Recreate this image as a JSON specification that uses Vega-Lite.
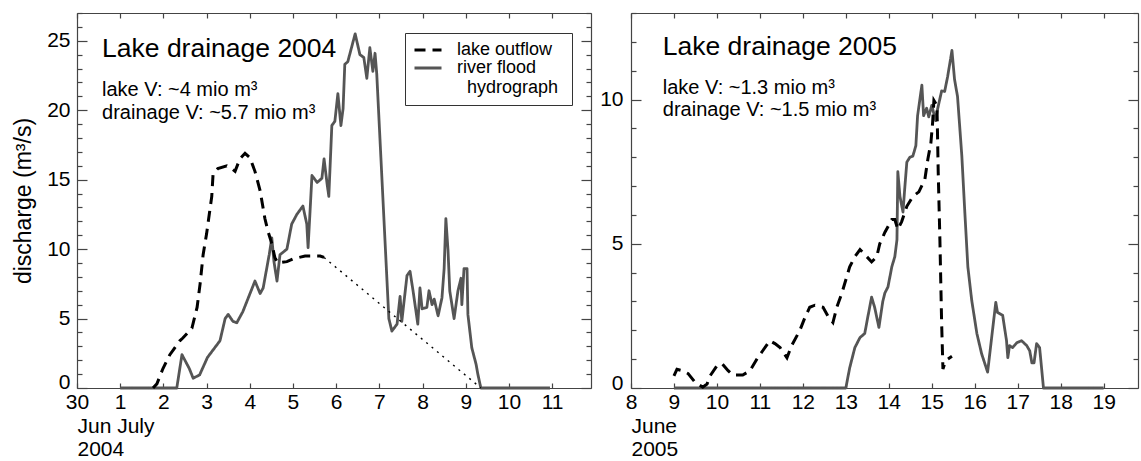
{
  "$schema": "https://vega.github.io/schema/vega-lite/v6.json",
  "padding": {"left": 12, "top": 12, "right": 2, "bottom": 2},
  "config": {
    "font": "Liberation Sans",
    "view": {"stroke": null},
    "axis": {
      "grid": false,
      "domainColor": "#444444",
      "domainWidth": 1.2,
      "tickColor": "#444444",
      "tickWidth": 1.2,
      "labelColor": "#000000",
      "titleColor": "#000000",
      "labelFont": "Liberation Sans",
      "titleFont": "Liberation Sans",
      "labelFontSize": 21,
      "titleFontSize": 21,
      "titleFontWeight": "normal",
      "labelFlush": false,
      "labelOverlap": false
    }
  },
  "spacing": 7,
  "resolve": {"scale": {"color": "independent", "strokeDash": "independent"}},
  "datasets": {
    "y2004": [
      {"day": 1.0, "q": 0, "series": "river flood hydrograph"},
      {"day": 2.31, "q": 0, "series": "river flood hydrograph"},
      {"day": 2.43, "q": 2.4, "series": "river flood hydrograph"},
      {"day": 2.6, "q": 1.4, "series": "river flood hydrograph"},
      {"day": 2.69, "q": 0.7, "series": "river flood hydrograph"},
      {"day": 2.84, "q": 0.95, "series": "river flood hydrograph"},
      {"day": 3.02, "q": 2.2, "series": "river flood hydrograph"},
      {"day": 3.31, "q": 3.4, "series": "river flood hydrograph"},
      {"day": 3.43, "q": 5.0, "series": "river flood hydrograph"},
      {"day": 3.5, "q": 5.3, "series": "river flood hydrograph"},
      {"day": 3.61, "q": 4.8, "series": "river flood hydrograph"},
      {"day": 3.7, "q": 4.7, "series": "river flood hydrograph"},
      {"day": 3.84, "q": 5.5, "series": "river flood hydrograph"},
      {"day": 4.12, "q": 7.7, "series": "river flood hydrograph"},
      {"day": 4.24, "q": 6.8, "series": "river flood hydrograph"},
      {"day": 4.31, "q": 7.2, "series": "river flood hydrograph"},
      {"day": 4.45, "q": 9.6, "series": "river flood hydrograph"},
      {"day": 4.51, "q": 10.8, "series": "river flood hydrograph"},
      {"day": 4.56, "q": 9.1, "series": "river flood hydrograph"},
      {"day": 4.63, "q": 7.7, "series": "river flood hydrograph"},
      {"day": 4.7, "q": 9.6, "series": "river flood hydrograph"},
      {"day": 4.86, "q": 10.0, "series": "river flood hydrograph"},
      {"day": 4.97, "q": 11.8, "series": "river flood hydrograph"},
      {"day": 5.09, "q": 12.5, "series": "river flood hydrograph"},
      {"day": 5.23, "q": 13.1, "series": "river flood hydrograph"},
      {"day": 5.32, "q": 11.8, "series": "river flood hydrograph"},
      {"day": 5.35, "q": 10.1, "series": "river flood hydrograph"},
      {"day": 5.44, "q": 15.3, "series": "river flood hydrograph"},
      {"day": 5.56, "q": 14.8, "series": "river flood hydrograph"},
      {"day": 5.67, "q": 15.1, "series": "river flood hydrograph"},
      {"day": 5.72, "q": 16.5, "series": "river flood hydrograph"},
      {"day": 5.79, "q": 14.7, "series": "river flood hydrograph"},
      {"day": 5.83, "q": 13.8, "series": "river flood hydrograph"},
      {"day": 5.9, "q": 18.9, "series": "river flood hydrograph"},
      {"day": 5.97, "q": 19.2, "series": "river flood hydrograph"},
      {"day": 6.04, "q": 21.2, "series": "river flood hydrograph"},
      {"day": 6.11, "q": 18.9, "series": "river flood hydrograph"},
      {"day": 6.16, "q": 20.1, "series": "river flood hydrograph"},
      {"day": 6.2, "q": 23.3, "series": "river flood hydrograph"},
      {"day": 6.27, "q": 23.5, "series": "river flood hydrograph"},
      {"day": 6.44, "q": 25.5, "series": "river flood hydrograph"},
      {"day": 6.55, "q": 24.0, "series": "river flood hydrograph"},
      {"day": 6.64, "q": 23.8, "series": "river flood hydrograph"},
      {"day": 6.71, "q": 22.3, "series": "river flood hydrograph"},
      {"day": 6.78, "q": 24.5, "series": "river flood hydrograph"},
      {"day": 6.85, "q": 22.8, "series": "river flood hydrograph"},
      {"day": 6.9, "q": 24.1, "series": "river flood hydrograph"},
      {"day": 6.94, "q": 22.6, "series": "river flood hydrograph"},
      {"day": 7.22, "q": 5.0, "series": "river flood hydrograph"},
      {"day": 7.29, "q": 4.1, "series": "river flood hydrograph"},
      {"day": 7.41, "q": 4.6, "series": "river flood hydrograph"},
      {"day": 7.48, "q": 6.6, "series": "river flood hydrograph"},
      {"day": 7.52, "q": 4.8, "series": "river flood hydrograph"},
      {"day": 7.64, "q": 8.1, "series": "river flood hydrograph"},
      {"day": 7.71, "q": 8.4, "series": "river flood hydrograph"},
      {"day": 7.78, "q": 7.0, "series": "river flood hydrograph"},
      {"day": 7.89, "q": 4.6, "series": "river flood hydrograph"},
      {"day": 7.94, "q": 7.2, "series": "river flood hydrograph"},
      {"day": 7.99, "q": 5.7, "series": "river flood hydrograph"},
      {"day": 8.1, "q": 5.8, "series": "river flood hydrograph"},
      {"day": 8.15, "q": 7.0, "series": "river flood hydrograph"},
      {"day": 8.22, "q": 6.0, "series": "river flood hydrograph"},
      {"day": 8.27, "q": 6.4, "series": "river flood hydrograph"},
      {"day": 8.36, "q": 5.2, "series": "river flood hydrograph"},
      {"day": 8.45, "q": 6.5, "series": "river flood hydrograph"},
      {"day": 8.5, "q": 8.6, "series": "river flood hydrograph"},
      {"day": 8.54, "q": 12.2, "series": "river flood hydrograph"},
      {"day": 8.59, "q": 9.9, "series": "river flood hydrograph"},
      {"day": 8.63, "q": 7.0, "series": "river flood hydrograph"},
      {"day": 8.73, "q": 5.0, "series": "river flood hydrograph"},
      {"day": 8.82, "q": 7.0, "series": "river flood hydrograph"},
      {"day": 8.89, "q": 7.9, "series": "river flood hydrograph"},
      {"day": 8.91, "q": 6.0, "series": "river flood hydrograph"},
      {"day": 8.96, "q": 8.6, "series": "river flood hydrograph"},
      {"day": 9.03, "q": 8.6, "series": "river flood hydrograph"},
      {"day": 9.05, "q": 5.3, "series": "river flood hydrograph"},
      {"day": 9.14, "q": 2.9, "series": "river flood hydrograph"},
      {"day": 9.24, "q": 1.7, "series": "river flood hydrograph"},
      {"day": 9.28, "q": 1.0, "series": "river flood hydrograph"},
      {"day": 9.35, "q": 0, "series": "river flood hydrograph"},
      {"day": 10.95, "q": 0, "series": "river flood hydrograph"},
      {"day": 1.76, "q": 0, "series": "lake outflow"},
      {"day": 1.85, "q": 0.3, "series": "lake outflow"},
      {"day": 1.99, "q": 1.4, "series": "lake outflow"},
      {"day": 2.15, "q": 2.4, "series": "lake outflow"},
      {"day": 2.38, "q": 3.4, "series": "lake outflow"},
      {"day": 2.45, "q": 3.6, "series": "lake outflow"},
      {"day": 2.66, "q": 4.3, "series": "lake outflow"},
      {"day": 2.78, "q": 5.8, "series": "lake outflow"},
      {"day": 2.85, "q": 7.5, "series": "lake outflow"},
      {"day": 2.92, "q": 9.6, "series": "lake outflow"},
      {"day": 3.0, "q": 11.1, "series": "lake outflow"},
      {"day": 3.12, "q": 13.8, "series": "lake outflow"},
      {"day": 3.15, "q": 15.4, "series": "lake outflow"},
      {"day": 3.26, "q": 15.8, "series": "lake outflow"},
      {"day": 3.47, "q": 16.0, "series": "lake outflow"},
      {"day": 3.54, "q": 15.9, "series": "lake outflow"},
      {"day": 3.66, "q": 15.6, "series": "lake outflow"},
      {"day": 3.77, "q": 16.5, "series": "lake outflow"},
      {"day": 3.89, "q": 16.9, "series": "lake outflow"},
      {"day": 4.0, "q": 16.6, "series": "lake outflow"},
      {"day": 4.12, "q": 15.6, "series": "lake outflow"},
      {"day": 4.24, "q": 14.2, "series": "lake outflow"},
      {"day": 4.35, "q": 12.2, "series": "lake outflow"},
      {"day": 4.42, "q": 11.3, "series": "lake outflow"},
      {"day": 4.51, "q": 10.4, "series": "lake outflow"},
      {"day": 4.58, "q": 9.4, "series": "lake outflow"},
      {"day": 4.65, "q": 9.0, "series": "lake outflow"},
      {"day": 4.86, "q": 9.1, "series": "lake outflow"},
      {"day": 5.0, "q": 9.3, "series": "lake outflow"},
      {"day": 5.28, "q": 9.5, "series": "lake outflow"},
      {"day": 5.63, "q": 9.5, "series": "lake outflow"},
      {"day": 5.72, "q": 9.4, "series": "lake outflow"},
      {"day": 5.72, "q": 9.4, "series": "extrapolated"},
      {"day": 9.35, "q": 0, "series": "extrapolated"}
    ],
    "y2005": [
      {"day": 9.0, "q": 0, "series": "river flood hydrograph"},
      {"day": 13.0, "q": 0, "series": "river flood hydrograph"},
      {"day": 13.09, "q": 0.7, "series": "river flood hydrograph"},
      {"day": 13.21, "q": 1.4, "series": "river flood hydrograph"},
      {"day": 13.33, "q": 1.75, "series": "river flood hydrograph"},
      {"day": 13.44, "q": 1.89, "series": "river flood hydrograph"},
      {"day": 13.51, "q": 2.45, "series": "river flood hydrograph"},
      {"day": 13.6, "q": 3.15, "series": "river flood hydrograph"},
      {"day": 13.67, "q": 2.8, "series": "river flood hydrograph"},
      {"day": 13.77, "q": 2.1, "series": "river flood hydrograph"},
      {"day": 13.86, "q": 3.0, "series": "river flood hydrograph"},
      {"day": 13.91, "q": 3.3, "series": "river flood hydrograph"},
      {"day": 13.98, "q": 3.5, "series": "river flood hydrograph"},
      {"day": 14.07, "q": 4.2, "series": "river flood hydrograph"},
      {"day": 14.14, "q": 4.55, "series": "river flood hydrograph"},
      {"day": 14.19, "q": 5.14, "series": "river flood hydrograph"},
      {"day": 14.21, "q": 7.5, "series": "river flood hydrograph"},
      {"day": 14.26, "q": 6.64, "series": "river flood hydrograph"},
      {"day": 14.33, "q": 6.1, "series": "river flood hydrograph"},
      {"day": 14.37, "q": 6.9, "series": "river flood hydrograph"},
      {"day": 14.42, "q": 7.83, "series": "river flood hydrograph"},
      {"day": 14.49, "q": 8.0, "series": "river flood hydrograph"},
      {"day": 14.56, "q": 8.04, "series": "river flood hydrograph"},
      {"day": 14.63, "q": 8.4, "series": "river flood hydrograph"},
      {"day": 14.67, "q": 9.44, "series": "river flood hydrograph"},
      {"day": 14.77, "q": 10.5, "series": "river flood hydrograph"},
      {"day": 14.81, "q": 9.44, "series": "river flood hydrograph"},
      {"day": 14.88, "q": 9.7, "series": "river flood hydrograph"},
      {"day": 14.93, "q": 9.4, "series": "river flood hydrograph"},
      {"day": 15.0, "q": 9.8, "series": "river flood hydrograph"},
      {"day": 15.09, "q": 9.27, "series": "river flood hydrograph"},
      {"day": 15.14, "q": 9.7, "series": "river flood hydrograph"},
      {"day": 15.23, "q": 10.3, "series": "river flood hydrograph"},
      {"day": 15.3, "q": 10.28, "series": "river flood hydrograph"},
      {"day": 15.37, "q": 10.8, "series": "river flood hydrograph"},
      {"day": 15.47, "q": 11.7, "series": "river flood hydrograph"},
      {"day": 15.53, "q": 10.7, "series": "river flood hydrograph"},
      {"day": 15.6, "q": 10.1, "series": "river flood hydrograph"},
      {"day": 15.7, "q": 8.04, "series": "river flood hydrograph"},
      {"day": 15.77, "q": 6.08, "series": "river flood hydrograph"},
      {"day": 15.84, "q": 4.2, "series": "river flood hydrograph"},
      {"day": 15.93, "q": 3.04, "series": "river flood hydrograph"},
      {"day": 16.05, "q": 1.89, "series": "river flood hydrograph"},
      {"day": 16.16, "q": 1.19, "series": "river flood hydrograph"},
      {"day": 16.3, "q": 0.55, "series": "river flood hydrograph"},
      {"day": 16.49, "q": 2.97, "series": "river flood hydrograph"},
      {"day": 16.53, "q": 2.62, "series": "river flood hydrograph"},
      {"day": 16.65, "q": 2.52, "series": "river flood hydrograph"},
      {"day": 16.74, "q": 1.64, "series": "river flood hydrograph"},
      {"day": 16.77, "q": 1.05, "series": "river flood hydrograph"},
      {"day": 16.81, "q": 1.47, "series": "river flood hydrograph"},
      {"day": 16.88, "q": 1.4, "series": "river flood hydrograph"},
      {"day": 16.98, "q": 1.57, "series": "river flood hydrograph"},
      {"day": 17.09, "q": 1.64, "series": "river flood hydrograph"},
      {"day": 17.21, "q": 1.47, "series": "river flood hydrograph"},
      {"day": 17.28, "q": 1.29, "series": "river flood hydrograph"},
      {"day": 17.33, "q": 0.87, "series": "river flood hydrograph"},
      {"day": 17.38, "q": 0.87, "series": "river flood hydrograph"},
      {"day": 17.44, "q": 1.54, "series": "river flood hydrograph"},
      {"day": 17.51, "q": 1.4, "series": "river flood hydrograph"},
      {"day": 17.6, "q": 0, "series": "river flood hydrograph"},
      {"day": 19.0, "q": 0, "series": "river flood hydrograph"},
      {"day": 9.0, "q": 0.42, "series": "lake outflow"},
      {"day": 9.07, "q": 0.65, "series": "lake outflow"},
      {"day": 9.2, "q": 0.6, "series": "lake outflow"},
      {"day": 9.33, "q": 0.5, "series": "lake outflow"},
      {"day": 9.49, "q": 0.2, "series": "lake outflow"},
      {"day": 9.67, "q": 0.03, "series": "lake outflow"},
      {"day": 9.77, "q": 0.14, "series": "lake outflow"},
      {"day": 9.84, "q": 0.42, "series": "lake outflow"},
      {"day": 10.0, "q": 0.77, "series": "lake outflow"},
      {"day": 10.12, "q": 0.84, "series": "lake outflow"},
      {"day": 10.26, "q": 0.6, "series": "lake outflow"},
      {"day": 10.37, "q": 0.45, "series": "lake outflow"},
      {"day": 10.6, "q": 0.45, "series": "lake outflow"},
      {"day": 10.77, "q": 0.6, "series": "lake outflow"},
      {"day": 10.95, "q": 1.05, "series": "lake outflow"},
      {"day": 11.07, "q": 1.3, "series": "lake outflow"},
      {"day": 11.23, "q": 1.64, "series": "lake outflow"},
      {"day": 11.35, "q": 1.54, "series": "lake outflow"},
      {"day": 11.47, "q": 1.4, "series": "lake outflow"},
      {"day": 11.63, "q": 1.05, "series": "lake outflow"},
      {"day": 11.74, "q": 1.47, "series": "lake outflow"},
      {"day": 11.93, "q": 2.0, "series": "lake outflow"},
      {"day": 12.05, "q": 2.45, "series": "lake outflow"},
      {"day": 12.16, "q": 2.8, "series": "lake outflow"},
      {"day": 12.28, "q": 2.87, "series": "lake outflow"},
      {"day": 12.47, "q": 2.8, "series": "lake outflow"},
      {"day": 12.58, "q": 2.5, "series": "lake outflow"},
      {"day": 12.7, "q": 2.27, "series": "lake outflow"},
      {"day": 12.79, "q": 2.8, "series": "lake outflow"},
      {"day": 12.91, "q": 3.3, "series": "lake outflow"},
      {"day": 13.02, "q": 3.85, "series": "lake outflow"},
      {"day": 13.09, "q": 4.2, "series": "lake outflow"},
      {"day": 13.21, "q": 4.55, "series": "lake outflow"},
      {"day": 13.33, "q": 4.8, "series": "lake outflow"},
      {"day": 13.49, "q": 4.55, "series": "lake outflow"},
      {"day": 13.6, "q": 4.37, "series": "lake outflow"},
      {"day": 13.72, "q": 4.55, "series": "lake outflow"},
      {"day": 13.79, "q": 5.0, "series": "lake outflow"},
      {"day": 13.91, "q": 5.4, "series": "lake outflow"},
      {"day": 14.07, "q": 5.84, "series": "lake outflow"},
      {"day": 14.14, "q": 5.84, "series": "lake outflow"},
      {"day": 14.21, "q": 5.5, "series": "lake outflow"},
      {"day": 14.3, "q": 5.77, "series": "lake outflow"},
      {"day": 14.42, "q": 6.3, "series": "lake outflow"},
      {"day": 14.56, "q": 6.64, "series": "lake outflow"},
      {"day": 14.7, "q": 6.8, "series": "lake outflow"},
      {"day": 14.84, "q": 7.24, "series": "lake outflow"},
      {"day": 14.91, "q": 7.94, "series": "lake outflow"},
      {"day": 14.98, "q": 8.5, "series": "lake outflow"},
      {"day": 15.02, "q": 9.2, "series": "lake outflow"},
      {"day": 15.05, "q": 9.97, "series": "lake outflow"},
      {"day": 15.12, "q": 9.8, "series": "lake outflow"},
      {"day": 15.13, "q": 9.1, "series": "lake outflow"},
      {"day": 15.15, "q": 7.5, "series": "lake outflow"},
      {"day": 15.19, "q": 5.1, "series": "lake outflow"},
      {"day": 15.23, "q": 2.24, "series": "lake outflow"},
      {"day": 15.26, "q": 0.66, "series": "lake outflow"},
      {"day": 15.3, "q": 0.84, "series": "lake outflow"},
      {"day": 15.37, "q": 1.0, "series": "lake outflow"},
      {"day": 15.47, "q": 1.1, "series": "lake outflow"}
    ],
    "notes2004": [
      {"day": 0.58, "q": 23.8, "text": "Lake drainage 2004", "kind": "head"},
      {"day": 0.58, "q": 21.0, "text": "lake V: ~4 mio m³", "kind": "sub"},
      {"day": 0.58, "q": 19.35, "text": "drainage V: ~5.7 mio m³", "kind": "sub"}
    ],
    "notes2005": [
      {"day": 8.74, "q": 11.54, "text": "Lake drainage 2005", "kind": "head"},
      {"day": 8.74, "q": 10.2, "text": "lake V: ~1.3 mio m³", "kind": "sub"},
      {"day": 8.74, "q": 9.44, "text": "drainage V: ~1.5 mio m³", "kind": "sub"}
    ]
  },
  "hconcat": [
    {
      "width": 514,
      "height": 375,
      "layer": [
        {
          "data": {"name": "y2004"},
          "transform": [{"filter": "datum.series === 'river flood hydrograph'"}],
          "mark": {"type": "line", "strokeWidth": 2.8, "strokeJoin": "round"},
          "encoding": {
            "x": {"field": "day", "type": "quantitative",
              "scale": {"domain": [0, 11.9], "nice": false, "zero": false},
              "axis": {"orient": "bottom", "values": [0,1,2,3,4,5,6,7,8,9,10,11],
                "labelExpr": "datum.value === 0 ? '30' : datum.label",
                "tickSize": -5, "labelPadding": 8,
                "title": ["Jun July", "2004"], "titleAnchor": "start", "titleAlign": "left",
                "titleBaseline": "top", "titlePadding": 3, "titleLineHeight": 23}},
            "y": {"field": "q", "type": "quantitative",
              "scale": {"domain": [0, 27], "nice": false},
              "axis": {"orient": "left", "values": [0,1,2,3,4,5,6,7,8,9,10,11,12,13,14,15,16,17,18,19,20,21,22,23,24,25,26,27],
                "labelExpr": "datum.value % 5 === 0 ? datum.label : ''",
                "labelFontSize": {"condition": {"test": "datum.value % 5 === 0", "value": 21}, "value": 0.1},
                "tickSize": {"condition": {"test": "datum.value % 5 === 0", "value": -10}, "value": -5},
                "labelPadding": 17,
                "labelOffset": {"condition": {"test": "datum.value === 0", "value": -6}, "value": 0},
                "title": "discharge (m³/s)", "titleFontSize": 23, "titlePadding": 11}},
            "color": {"field": "series", "type": "nominal",
              "scale": {"domain": ["lake outflow", "river flood hydrograph"], "range": ["#000000", "#555555"]},
              "legend": {"title": null, "orient": "none", "legendX": 328, "legendY": 20,
                "strokeColor": "#333333", "padding": 8, "symbolType": "stroke", "symbolSize": 729,
                "symbolStrokeWidth": 3, "labelFontSize": 18, "labelFont": "Liberation Sans", "labelLimit": 0,
                "labelOffset": 14, "rowPadding": 0, "clipHeight": 18,
                "labelExpr": "datum.label === 'river flood hydrograph' ? ['river flood', '\u200b\u00a0\u00a0hydrograph\u00a0\u200b'] : datum.label"}},
            "strokeDash": {"field": "series", "type": "nominal",
              "scale": {"domain": ["lake outflow", "river flood hydrograph"], "range": [[11, 7], [1, 0]]},
              "legend": {"title": null, "orient": "none", "legendX": 328, "legendY": 20,
                "strokeColor": "#333333", "padding": 8, "symbolType": "stroke", "symbolSize": 729,
                "symbolStrokeWidth": 3, "labelFontSize": 18, "labelFont": "Liberation Sans", "labelLimit": 0,
                "labelOffset": 14, "rowPadding": 0, "clipHeight": 18,
                "labelExpr": "datum.label === 'river flood hydrograph' ? ['river flood', '\u200b\u00a0\u00a0hydrograph\u00a0\u200b'] : datum.label"}}
          }
        },
        {
          "data": {"name": "y2004"},
          "transform": [{"filter": "datum.series === 'lake outflow'"}],
          "mark": {"type": "line", "strokeWidth": 3},
          "encoding": {
            "x": {"field": "day", "type": "quantitative",
              "axis": {"orient": "top", "values": [0,1,2,3,4,5,6,7,8,9,10,11], "labels": false, "tickSize": -5, "title": null}},
            "y": {"field": "q", "type": "quantitative",
              "axis": {"orient": "right", "values": [0,1,2,3,4,5,6,7,8,9,10,11,12,13,14,15,16,17,18,19,20,21,22,23,24,25,26,27],
                "labels": false, "title": null,
                "tickSize": {"condition": {"test": "datum.value % 5 === 0", "value": -10}, "value": -5}}},
            "color": {"field": "series", "type": "nominal"},
            "strokeDash": {"field": "series", "type": "nominal"}
          }
        },
        {
          "data": {"name": "y2004"},
          "transform": [{"filter": "datum.series === 'extrapolated'"}],
          "mark": {"type": "line", "strokeWidth": 1.4, "strokeDash": [2, 5], "color": "#000000"},
          "encoding": {
            "x": {"field": "day", "type": "quantitative", "axis": null},
            "y": {"field": "q", "type": "quantitative", "axis": null}
          }
        },
        {
          "data": {"name": "notes2004"},
          "transform": [{"filter": "datum.kind === 'head'"}],
          "mark": {"type": "text", "align": "left", "baseline": "alphabetic", "fontSize": 26.5, "font": "Liberation Sans", "color": "#000000"},
          "encoding": {
            "x": {"field": "day", "type": "quantitative", "axis": null},
            "y": {"field": "q", "type": "quantitative", "axis": null},
            "text": {"field": "text"}
          }
        },
        {
          "data": {"name": "notes2004"},
          "transform": [{"filter": "datum.kind === 'sub'"}],
          "mark": {"type": "text", "align": "left", "baseline": "alphabetic", "fontSize": 20, "font": "Liberation Sans", "color": "#000000"},
          "encoding": {
            "x": {"field": "day", "type": "quantitative", "axis": null},
            "y": {"field": "q", "type": "quantitative", "axis": null},
            "text": {"field": "text"}
          }
        }
      ]
    },
    {
      "width": 507,
      "height": 375,
      "layer": [
        {
          "data": {"name": "y2005"},
          "transform": [{"filter": "datum.series === 'river flood hydrograph'"}],
          "mark": {"type": "line", "strokeWidth": 2.8, "strokeJoin": "round"},
          "encoding": {
            "x": {"field": "day", "type": "quantitative",
              "scale": {"domain": [8, 19.8], "nice": false, "zero": false},
              "axis": {"orient": "bottom", "values": [8,9,10,11,12,13,14,15,16,17,18,19],
                "tickSize": -5, "labelPadding": 8,
                "title": ["June", "2005"], "titleAnchor": "start", "titleAlign": "left",
                "titleBaseline": "top", "titlePadding": 3, "titleLineHeight": 23}},
            "y": {"field": "q", "type": "quantitative",
              "scale": {"domain": [0, 13], "nice": false},
              "axis": {"orient": "left", "values": [0,1,2,3,4,5,6,7,8,9,10,11,12,13],
                "labelExpr": "datum.value % 5 === 0 ? datum.label : ''",
                "labelFontSize": {"condition": {"test": "datum.value % 5 === 0", "value": 21}, "value": 0.1},
                "tickSize": {"condition": {"test": "datum.value % 5 === 0", "value": -10}, "value": -5},
                "labelPadding": 18,
                "labelOffset": {"condition": {"test": "datum.value === 0", "value": -5}, "value": 0},
                "title": null}},
            "color": {"field": "series", "type": "nominal",
              "scale": {"domain": ["lake outflow", "river flood hydrograph"], "range": ["#000000", "#555555"]},
              "legend": null},
            "strokeDash": {"field": "series", "type": "nominal",
              "scale": {"domain": ["lake outflow", "river flood hydrograph"], "range": [[11, 7], [1, 0]]},
              "legend": null}
          }
        },
        {
          "data": {"name": "y2005"},
          "transform": [{"filter": "datum.series === 'lake outflow'"}],
          "mark": {"type": "line", "strokeWidth": 3},
          "encoding": {
            "x": {"field": "day", "type": "quantitative",
              "axis": {"orient": "top", "values": [8,9,10,11,12,13,14,15,16,17,18,19], "labels": false, "tickSize": -5, "title": null}},
            "y": {"field": "q", "type": "quantitative",
              "axis": {"orient": "right", "values": [0,1,2,3,4,5,6,7,8,9,10,11,12,13],
                "labels": false, "title": null,
                "tickSize": {"condition": {"test": "datum.value % 5 === 0", "value": -10}, "value": -5}}},
            "color": {"field": "series", "type": "nominal", "legend": null},
            "strokeDash": {"field": "series", "type": "nominal", "legend": null}
          }
        },
        {
          "data": {"name": "notes2005"},
          "transform": [{"filter": "datum.kind === 'head'"}],
          "mark": {"type": "text", "align": "left", "baseline": "alphabetic", "fontSize": 26.5, "font": "Liberation Sans", "color": "#000000"},
          "encoding": {
            "x": {"field": "day", "type": "quantitative", "axis": null},
            "y": {"field": "q", "type": "quantitative", "axis": null},
            "text": {"field": "text"}
          }
        },
        {
          "data": {"name": "notes2005"},
          "transform": [{"filter": "datum.kind === 'sub'"}],
          "mark": {"type": "text", "align": "left", "baseline": "alphabetic", "fontSize": 20, "font": "Liberation Sans", "color": "#000000"},
          "encoding": {
            "x": {"field": "day", "type": "quantitative", "axis": null},
            "y": {"field": "q", "type": "quantitative", "axis": null},
            "text": {"field": "text"}
          }
        }
      ]
    }
  ]
}
